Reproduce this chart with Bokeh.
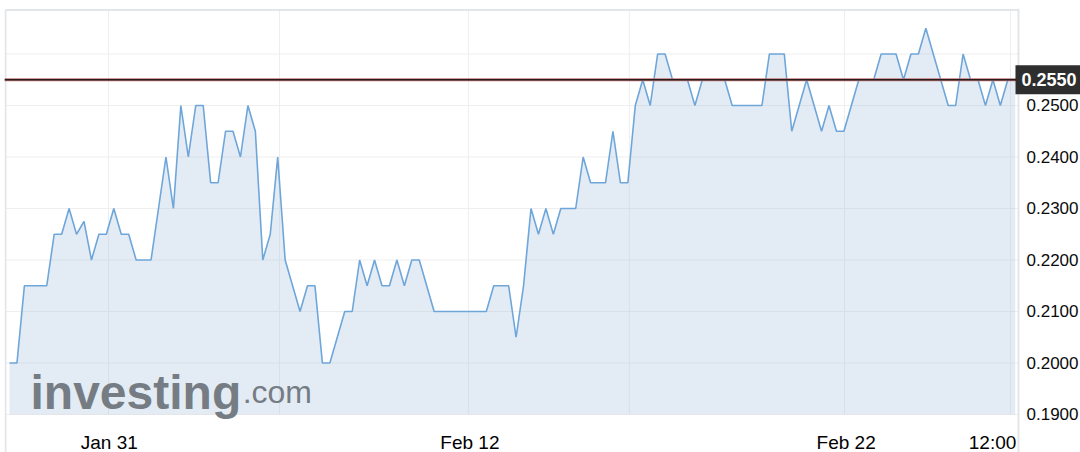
from bokeh.plotting import figure
from bokeh.models import FixedTicker, Span, Label, PrintfTickFormatter, Range1d, LinearAxis
from bokeh.core.properties import value
from bokeh.embed import file_html
from bokeh.resources import INLINE

# ---- data ----
prices = [
    0.2000, 0.2000, 0.2150, 0.2150, 0.2150, 0.2150, 0.2250, 0.2250, 0.2300, 0.2250,
    0.2275, 0.2200, 0.2250, 0.2250, 0.2300, 0.2250, 0.2250, 0.2200, 0.2200, 0.2200,
    0.2300, 0.2400, 0.2300, 0.2500, 0.2400, 0.2500, 0.2500, 0.2350, 0.2350, 0.2450,
    0.2450, 0.2400, 0.2500, 0.2450, 0.2200, 0.2250, 0.2400, 0.2200, 0.2150, 0.2100,
    0.2150, 0.2150, 0.2000, 0.2000, 0.2050, 0.2100, 0.2100, 0.2200, 0.2150, 0.2200,
    0.2150, 0.2150, 0.2200, 0.2150, 0.2200, 0.2200, 0.2150, 0.2100, 0.2100, 0.2100,
    0.2100, 0.2100, 0.2100, 0.2100, 0.2100, 0.2150, 0.2150, 0.2150, 0.2050, 0.2150,
    0.2300, 0.2250, 0.2300, 0.2250, 0.2300, 0.2300, 0.2300, 0.2400, 0.2350, 0.2350,
    0.2350, 0.2450, 0.2350, 0.2350, 0.2500, 0.2550, 0.2500, 0.2600, 0.2600, 0.2550,
    0.2550, 0.2550, 0.2500, 0.2550, 0.2550, 0.2550, 0.2550, 0.2500, 0.2500, 0.2500,
    0.2500, 0.2500, 0.2600, 0.2600, 0.2600, 0.2450, 0.2500, 0.2550, 0.2500, 0.2450,
    0.2500, 0.2450, 0.2450, 0.2500, 0.2550, 0.2550, 0.2550, 0.2600, 0.2600, 0.2600,
    0.2550, 0.2600, 0.2600, 0.2650, 0.2600, 0.2550, 0.2500, 0.2500, 0.2600, 0.2550,
    0.2550, 0.2500, 0.2550, 0.2500, 0.2550, 0.2550,
]
last_price = 0.2550
last_label = "0.2550"
y_ticks = [0.19, 0.20, 0.21, 0.22, 0.23, 0.24, 0.25]
y_grid = [0.19, 0.20, 0.21, 0.22, 0.23, 0.24, 0.25, 0.26]
x_grid_pos = [13.29, 36.24, 61.6, 83.2, 112.08, 134.36]
x_label_pos = [13.4, 61.8, 112.3, 131.95]
x_labels = ["Jan 31", "Feb 12", "Feb 22", "12:00"]

idx = list(range(len(prices)))

# ---- ranges / layout ----
x_lo, x_hi = -0.6711, 143.758
y_lo, y_hi = 0.182621, 0.268835
x_left, x_right = -0.537, 135.436      # chart box edges
y_top = 0.268544
base = y_grid[0]
box_color = "#e3e6e9"
grid_color = "#eeeeee"

p = figure(width=1080, height=452, output_backend="svg", toolbar_location=None,
           x_range=Range1d(x_lo, x_hi), y_range=Range1d(y_lo, y_hi),
           x_axis_location=None, y_axis_location=None,
           min_border_left=4, min_border_right=0, min_border_top=8, min_border_bottom=0)
p.background_fill_color = "white"
p.border_fill_color = "white"
p.outline_line_color = None
p.grid.visible = False

# grid lines
p.segment(x0=[x_left] * len(y_grid), y0=y_grid, x1=[x_right] * len(y_grid), y1=y_grid,
          line_color=grid_color, line_width=1)
p.segment(x0=x_grid_pos, y0=[base] * len(x_grid_pos), x1=x_grid_pos,
          y1=[y_top] * len(x_grid_pos), line_color=grid_color, line_width=1)

# chart box (left and top edges; right edge is the price axis line)
p.segment(x0=[x_left, x_left], y0=[y_lo, y_top], x1=[x_left, x_right], y1=[y_top, y_top],
          line_color=box_color, line_width=2)

# area + line
p.varea(x=idx, y1=[base] * len(idx), y2=prices, fill_color="#a9c5dd", fill_alpha=0.32)
p.line(idx, prices, line_color="#6fa6da", line_width=1.6)

# price axis (right edge of the box)
yax = LinearAxis(fixed_location=x_right)
yax.ticker = FixedTicker(ticks=y_ticks)
yax.formatter = PrintfTickFormatter(format="%.4f")
yax.axis_line_color = box_color
yax.axis_line_width = 2
yax.major_tick_line_color = None
yax.minor_tick_line_color = None
yax.major_tick_out = 0
yax.major_tick_in = 0
yax.major_label_standoff = 8
yax.major_label_text_font = "Liberation Sans"
yax.major_label_text_font_size = "17px"
yax.major_label_text_color = "#0a0a0a"
p.add_layout(yax, "right")

# date axis
xax = LinearAxis(fixed_location=base)
xax.ticker = FixedTicker(ticks=x_label_pos)
xax.major_label_overrides = dict(zip(x_label_pos, x_labels))
xax.axis_line_color = None
xax.major_tick_line_color = None
xax.minor_tick_line_color = None
xax.major_tick_out = 0
xax.major_tick_in = 0
xax.major_label_standoff = 18
xax.major_label_text_font = "Liberation Sans"
xax.major_label_text_font_size = "19px"
xax.major_label_text_color = "#000000"
p.add_layout(xax, "below")

# watermark
p.add_layout(Label(x=2.82, y=0.19433, text="investing", text_font="Liberation Sans",
                   text_font_style="bold", text_font_size="48px", text_color="#757c83",
                   text_baseline="alphabetic"))
p.add_layout(Label(x=31.3, y=0.19433, text=".com", text_font="Liberation Sans",
                   text_font_size="32px", text_color="#757c83", text_baseline="alphabetic"))

# last price line
p.add_layout(Span(location=last_price, dimension="width", line_color="#c07a7a", line_width=3))
p.add_layout(Span(location=last_price, dimension="width", line_color="#2a1c1c", line_width=1.5))

# last price tag
p.add_layout(Label(x=135.03, y=last_price, text=last_label,
                   text_font="Liberation Sans", text_font_style="bold", text_font_size="18px",
                   text_color="white", text_baseline="middle", background_fill_color="#2e2e2e",
                   padding=dict(left=6, right=8, top=8, bottom=8)))

open("out.html", "w").write(file_html(p, INLINE))
